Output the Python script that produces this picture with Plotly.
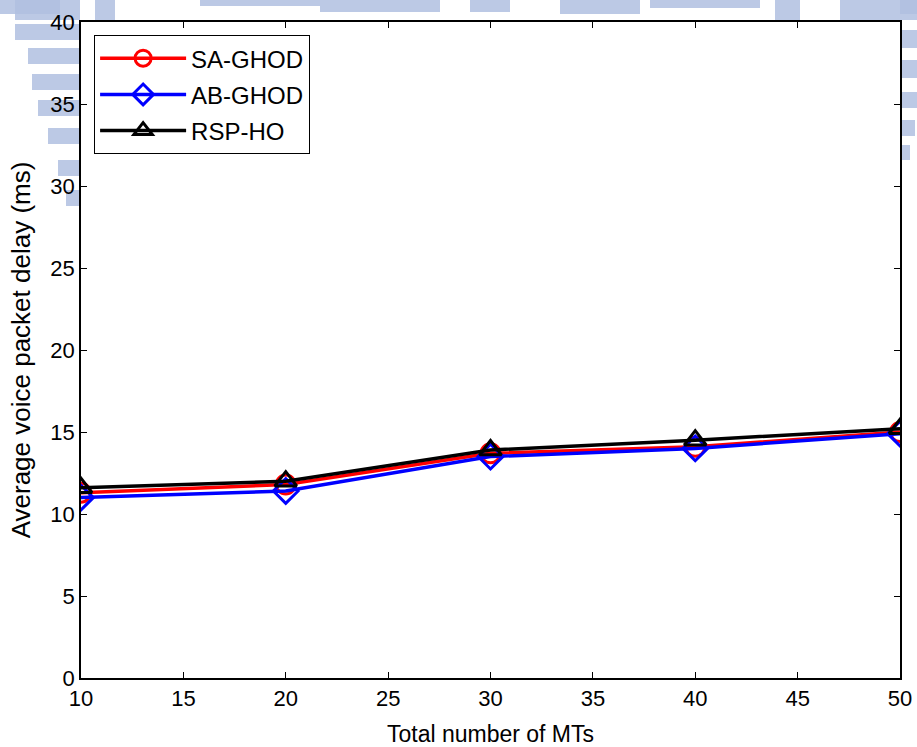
import plotly.graph_objects as go

mts = [10, 20, 30, 40, 50]
sa_ghod = [11.3, 11.8, 13.7, 14.1, 15.0]
ab_ghod = [11.0, 11.4, 13.5, 14.0, 14.9]
rsp_ho = [11.6, 12.0, 13.9, 14.5, 15.2]

x_ticks = [10, 15, 20, 25, 30, 35, 40, 45, 50]
y_ticks = [0, 5, 10, 15, 20, 25, 30, 35, 40]

W, H = 917, 747
L, R, T, B = 81, 17, 22, 69  # plot area: x 81..900, y 22..678

FONT = "Liberation Sans, Arial, sans-serif"

fig = go.Figure()
series = [
    ("SA-GHOD", sa_ghod, "#ff0000", "circle-open"),
    ("AB-GHOD", ab_ghod, "#0000ff", "diamond-open"),
    ("RSP-HO", rsp_ho, "#000000", "triangle-up-open"),
]
for name, vals, col, sym in series:
    fig.add_trace(go.Scatter(
        x=mts, y=vals, name=name, mode="lines+markers", legendgroup=name,
        line=dict(color=col, width=3.5),
        marker=dict(symbol=sym, size=19, color=col, line=dict(color=col, width=3)),
    ))

# faint watermark pieces in the margins (page pixel -> paper conversion)
wm = "rgba(176,192,224,0.85)"
pw, ph = W - L - R, H - T - B
def px(x0, y0, x1, y1):
    return dict(type="rect", xref="paper", yref="paper",
                x0=(x0 - L) / pw, x1=(x1 - L) / pw,
                y0=(H - B - y1) / ph, y1=(H - B - y0) / ph,
                fillcolor=wm, line=dict(width=0), layer="below")
shapes = []
for box in [(0, 0, 60, 14), (15, 24, 80, 40), (28, 48, 80, 64), (32, 74, 80, 90),
            (38, 100, 80, 116), (48, 128, 80, 144), (58, 160, 80, 176), (66, 190, 80, 206),
            (900, 0, 917, 14), (900, 30, 917, 48), (900, 60, 917, 78),
            (900, 92, 917, 108), (900, 120, 915, 136), (900, 145, 910, 160),
            (15, 0, 80, 20), (95, 0, 115, 20), (200, 0, 320, 6), (320, 0, 440, 12),
            (470, 0, 510, 12), (560, 0, 640, 14), (650, 0, 760, 8), (775, 0, 800, 20),
            (840, 0, 917, 20)]:
    shapes.append(px(*box))

axis_common = dict(
    showline=True, linecolor="black", linewidth=1.5, mirror="ticks",
    ticks="inside", ticklen=6, tickwidth=1, tickcolor="black",
    showgrid=False, zeroline=False, automargin=False,
    tickfont=dict(family=FONT, size=22, color="black"),
)
fig.update_xaxes(range=[10, 50], tickvals=x_ticks, title_text="Total number of MTs",
                 title_font=dict(family=FONT, size=23, color="black"),
                 title_standoff=16, **axis_common)
fig.update_yaxes(range=[0, 40], tickvals=y_ticks, title_text="Average voice packet delay (ms)",
                 title_font=dict(family=FONT, size=26, color="black"),
                 title_standoff=12, **axis_common)

fig.update_layout(
    width=W, height=H,
    margin=dict(l=L, r=R, t=T, b=B, autoexpand=False),
    paper_bgcolor="white", plot_bgcolor="white",
    shapes=shapes,
    legend=dict(x=0.016, y=0.98, xanchor="left", yanchor="top",
                bgcolor="white", bordercolor="black", borderwidth=1,
                font=dict(family=FONT, size=24, color="black"),
                itemwidth=86, tracegroupgap=2),
    font=dict(family=FONT),
)

fig.write_html("out.html", config={"displayModeBar": False},
               post_script="document.body.style.margin='0';")
